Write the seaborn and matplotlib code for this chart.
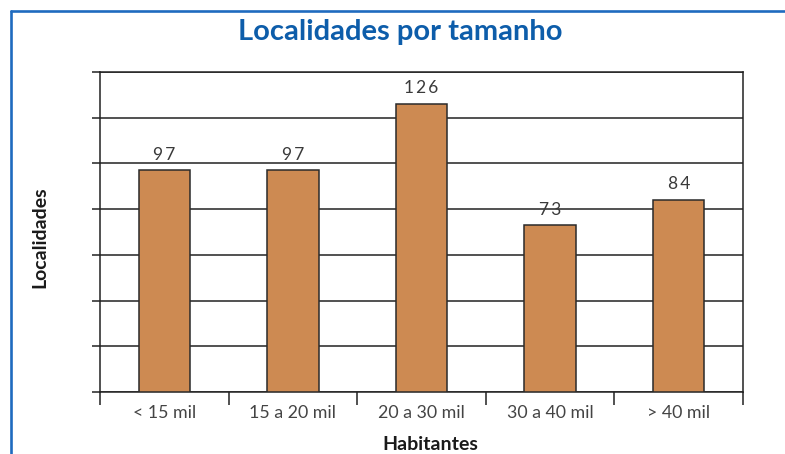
import matplotlib
matplotlib.use("Agg")
import matplotlib.pyplot as plt
import seaborn as sns
import pandas as pd
import numpy as np
from matplotlib.lines import Line2D

categories = ["< 15 mil", "15 a 20 mil", "20 a 30 mil", "30 a 40 mil", "> 40 mil"]
values = [97, 97, 126, 73, 84]
y_ticks = [0, 20, 40, 60, 80, 100, 120, 140]

title = "Localidades por tamanho"
xlabel = "Habitantes"
ylabel = "Localidades"

sns.set_theme(style="white")
plt.rcParams['font.family'] = ['Lato', 'DejaVu Sans']

df = pd.DataFrame({"cat": categories, "val": values})

fig = plt.figure(figsize=(7.85, 4.54), dpi=100)
ax = fig.add_axes([100/785, 1-392/454, (743-100)/785, (392-72)/454])

sns.barplot(data=df, x="cat", y="val", color="#CD8A52", edgecolor="#2a2a2a",
            linewidth=1.1, width=0.4, saturation=1, ax=ax, zorder=3)

ax.set_ylim(y_ticks[0], y_ticks[-1])
ax.set_xlim(-0.5, len(categories) - 0.5)
ax.set_yticks(y_ticks)
ax.set_yticklabels([])
ax.yaxis.grid(True, color="#222222", linewidth=1.1, zorder=0)
ax.set_axisbelow(True)
ax.tick_params(axis="y", direction="out", length=6, width=1.1, color="#222222", left=True)

ax.set_xticks(range(len(categories)))
ax.set_xticklabels(categories, fontsize=12.8, fontweight="normal", color="#444444")
ax.tick_params(axis="x", which="major", length=0, pad=9)
ax.set_xticks(np.arange(-0.5, len(categories), 1.0), minor=True)
ax.tick_params(axis="x", which="minor", direction="out", length=9, width=1.1,
               color="#222222", bottom=True)

for s in ax.spines.values():
    s.set_color("#222222")
    s.set_linewidth(1.1)

ax.set_xlabel("")
ax.set_ylabel("")

for i, v in enumerate(values):
    ax.annotate("\u2009".join(str(v)), xy=(i, v), xytext=(0, 5.5), textcoords="offset points",
                ha="center", va="bottom", fontsize=12.5, fontweight="normal",
                color="#3a3a3a", zorder=5)

fig.text(400/785, 1-40/454, title, ha="center", va="baseline", fontsize=21,
         fontweight="bold", color="#0D5DAA")
fig.text(430/785, 1-450/454, xlabel, ha="center", va="baseline", fontsize=14,
         fontweight="bold", color="#1a1a1a")
fig.text(40/785, 1-237.5/454, ylabel, ha="center", va="center", rotation=90,
         fontsize=14, fontweight="bold", color="#1a1a1a")

frame_color = "#1F6BBF"
x0 = 10.5/785
y0 = 1-10.5/454
fig.add_artist(Line2D([x0, x0], [-0.1, y0], color=frame_color, linewidth=1.9,
                      transform=fig.transFigure))
fig.add_artist(Line2D([x0, 1.1], [y0, y0], color=frame_color, linewidth=1.9,
                      transform=fig.transFigure))

fig.savefig("out.png", dpi=100)
